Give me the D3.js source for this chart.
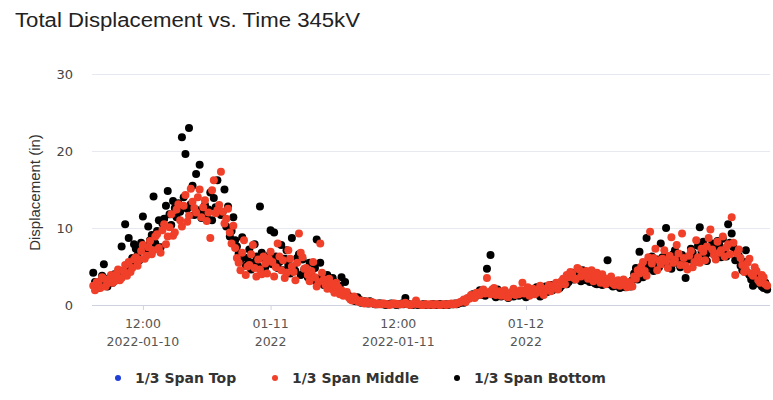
<!DOCTYPE html>
<html>
<head>
<meta charset="utf-8">
<script src="https://cdn.jsdelivr.net/npm/d3@7"></script>
<style>
  body { margin: 0; background: #fff; }
</style>
</head>
<body>
<div id="chart"></div>
<script>
// series values, one reading every 10 minutes from 2022-01-10 07:20
var topValues = [];

var middleValues = [
  2.5, 1.9, 3.0, 2.7, 2.2, 3.6, 3.4, 2.4, 2.8, 3.3, 3.9, 2.9, 3.1, 4.0, 4.6, 3.2, 3.5, 4.4, 5.2, 3.8,
  5.6, 4.3, 4.8, 5.9, 6.2, 5.1, 5.9, 7.0, 7.8, 6.0, 6.4, 7.5, 8.3, 6.6, 7.1, 8.9, 9.2, 7.4, 6.8, 9.7,
  10.5, 7.9, 8.9, 10.1, 11.8, 9.0, 9.4, 12.4, 13.1, 11.0, 10.2, 12.9, 14.3, 10.8, 11.6, 15.1, 13.4, 12.6, 12.0, 14.0,
  15.0, 11.4, 12.7, 13.6, 10.9, 12.0, 8.7, 14.9, 16.2, 11.9, 12.3, 13.0, 17.3, 12.1, 10.6, 11.2, 12.5, 9.4, 8.0, 10.3,
  7.4, 6.1, 5.5, 4.5, 6.8, 8.4, 3.9, 5.0, 5.2, 6.6, 7.8, 4.8, 3.7, 5.9, 4.6, 4.0, 6.3, 5.4, 4.1, 6.0,
  6.9, 5.6, 3.7, 4.9, 8.0, 6.3, 4.5, 5.8, 3.5, 4.2, 7.1, 6.0, 5.0, 4.3, 3.2, 5.5, 9.3, 6.8, 6.2, 4.7,
  4.8, 3.9, 3.1, 4.4, 5.6, 3.6, 2.4, 3.0, 8.0, 4.2, 3.3, 2.6, 2.1, 3.4, 2.8, 2.0, 1.6, 2.9, 2.3, 1.4,
  1.9, 1.2, 1.3, 1.7, 1.0, 0.7, 0.6, 1.1, 0.8, 0.5, 0.4, 0.6, 0.3, 0.2, 0.5, 0.3, 0.2, 0.4, 0.3, 0.1,
  0.2, 0.1, 0.1, 0.2, 0.2, 0.1, 0.1, 0.0, 0.1, 0.2, 0.2, 0.1, 0.1, 0.1, 0.1, 0.2, 0.3, 0.1, 0.1, 0.0,
  0.1, 0.2, 0.6, 0.1, 0.1, 0.0, 0.0, 0.1, 0.1, 0.0, 0.1, 0.1, 0.0, 0.1, 0.1, 0.0, 0.0, 0.1, 0.1, 0.0,
  0.1, 0.1, 0.2, 0.1, 0.1, 0.2, 0.3, 0.4, 0.5, 0.7, 0.4, 0.9, 0.8, 1.3, 1.1, 0.9, 1.6, 1.4, 1.3, 1.8,
  2.0, 1.5, 3.5, 1.7, 1.4, 2.0, 2.2, 1.3, 1.5, 1.8, 1.2, 1.6, 1.9, 1.1, 1.0, 1.4, 1.7, 2.1, 1.3, 1.6,
  1.4, 1.9, 2.9, 1.5, 1.8, 2.3, 1.2, 1.6, 2.1, 1.4, 1.6, 2.0, 2.5, 1.7, 1.3, 1.9, 2.2, 2.6, 1.8, 2.3,
  2.4, 2.9, 2.0, 2.6, 3.1, 3.4, 2.7, 3.9, 3.6, 4.3, 4.1, 3.5, 3.3, 4.8, 4.6, 3.7, 3.9, 4.2, 4.4, 3.4,
  3.8, 4.5, 3.1, 3.6, 4.2, 3.3, 2.9, 4.0, 3.5, 2.7, 3.0, 3.4, 3.7, 2.8, 2.6, 3.1, 3.2, 2.5, 2.8, 3.3,
  2.6, 2.3, 3.0, 2.8, 2.4, 3.7, 3.4, 4.5, 4.1, 5.0, 5.6, 4.4, 3.8, 6.2, 9.5, 5.4, 6.1, 7.3, 4.5, 5.8,
  5.3, 6.0, 7.1, 5.7, 4.8, 6.4, 8.8, 5.5, 5.9, 7.8, 6.7, 5.2, 9.3, 6.1, 5.1, 4.6, 6.4, 7.0, 4.9, 5.6,
  8.4, 6.2, 5.5, 7.3, 6.9, 5.8, 7.6, 8.7, 9.8, 7.2, 6.5, 5.9, 8.2, 6.8, 7.1, 8.9, 6.3, 7.5, 7.9, 6.6,
  11.4, 8.1, 3.9, 6.7, 7.2, 6.1, 5.2, 4.3, 4.6, 5.5, 6.0, 4.1, 3.8, 4.9, 4.4, 3.2, 2.9, 3.9, 3.6, 2.7, 2.5
];

var bottomValues = [
  4.2, 3.0, 2.6, 2.2, 3.1, 3.8, 5.3, 2.8, 2.4, 3.5, 3.2, 2.9, 4.0, 3.3, 3.6, 4.4, 7.6, 3.9, 10.5, 4.7,
  8.7, 5.4, 6.1, 7.9, 7.3, 6.5, 5.8, 8.1, 11.5, 7.7, 6.9, 10.2, 8.4, 9.1, 14.1, 8.0, 9.6, 11.0, 7.5, 10.6,
  11.2, 12.9, 14.8, 11.8, 10.4, 13.5, 12.6, 11.4, 13.2, 12.1, 21.8, 14.0, 19.6, 12.5, 23.0, 13.1, 15.5, 11.7, 17.0, 12.3,
  18.2, 11.3, 12.2, 13.0, 11.5, 12.4, 14.6, 11.0, 13.9, 12.7, 16.2, 11.9, 11.7, 12.1, 15.0, 10.2, 12.8, 8.9, 9.6, 11.4,
  8.4, 7.6, 6.7, 5.9, 8.8, 6.2, 5.1, 6.0, 7.2, 4.6, 5.5, 7.9, 6.3, 5.0, 12.8, 6.8, 6.1, 4.9, 5.4, 6.4,
  9.7, 5.3, 9.4, 6.3, 4.8, 5.6, 7.8, 4.5, 6.0, 7.1, 5.2, 4.1, 8.7, 5.0, 4.4, 6.1, 6.6, 3.9, 5.9, 4.6,
  4.1, 3.6, 5.5, 4.3, 3.2, 4.8, 8.5, 3.4, 5.5, 2.9, 2.6, 3.7, 3.9, 2.7, 2.2, 3.5, 3.0, 2.4, 1.8, 2.5,
  3.6, 1.6, 3.0, 1.4, 1.2, 0.8, 0.9, 0.6, 0.5, 1.0, 0.7, 0.3, 0.4, 0.5, 0.3, 0.2, 0.5, 0.3, 0.2, 0.1,
  0.1, 0.2, 0.2, 0.1, 0.1, 0.0, 0.1, 0.1, 0.2, 0.1, 0.1, 0.0, 0.1, 0.1, 0.2, 0.1, 0.9, 0.2, 0.1, 0.0,
  0.0, 0.1, 0.1, 0.0, 0.0, 0.0, 0.1, 0.1, 0.0, 0.0, 0.0, 0.1, 0.1, 0.0, 0.0, 0.1, 0.1, 0.0, 0.0, 0.1,
  0.0, 0.1, 0.1, 0.1, 0.2, 0.1, 0.2, 0.3, 0.4, 0.3, 0.6, 0.8, 0.9, 1.1, 1.4, 1.0, 1.2, 1.6, 1.9, 1.3,
  1.6, 1.2, 4.7, 1.5, 6.5, 1.8, 1.3, 1.0, 2.0, 1.4, 1.1, 1.7, 1.6, 1.2, 0.9, 1.5, 1.4, 1.1, 1.8, 1.3,
  1.2, 1.5, 1.8, 1.3, 1.0, 1.6, 1.9, 1.4, 1.5, 2.0, 2.3, 1.6, 1.1, 1.8, 2.0, 2.4, 1.7, 2.1, 2.6, 1.9,
  2.1, 2.4, 2.8, 2.2, 2.5, 3.0, 3.4, 2.7, 3.0, 3.6, 4.2, 3.3, 3.8, 4.4, 3.5, 3.1, 4.5, 3.7, 3.2, 3.9,
  3.0, 3.4, 3.6, 2.8, 2.7, 3.1, 3.3, 2.6, 2.9, 3.2, 5.8, 2.7, 3.1, 2.4, 2.5, 3.0, 2.8, 2.2, 2.4, 2.7,
  2.3, 2.6, 2.9, 2.4, 3.2, 4.1, 4.8, 3.3, 6.9, 4.5, 3.6, 5.3, 8.7, 4.7, 5.2, 6.3, 4.4, 5.5, 5.9, 4.9,
  8.0, 6.2, 5.4, 10.0, 6.3, 5.1, 4.7, 6.6, 7.1, 5.5, 5.8, 4.9, 6.5, 5.7, 3.5, 6.1, 5.9, 7.3, 6.8, 5.6,
  6.1, 7.7, 10.1, 6.9, 8.2, 6.4, 5.7, 7.2, 6.8, 8.0, 7.4, 6.5, 8.3, 7.8, 6.2, 8.6, 7.0, 6.3, 10.5, 8.1,
  9.3, 7.5, 5.8, 6.9, 6.4, 5.1, 4.5, 5.6, 7.1, 4.2, 3.9, 3.3, 2.5, 3.6, 4.1, 2.8, 3.3, 2.4, 2.2, 2.9, 2.0
];

var seriesNames = ["1/3 Span Top", "1/3 Span Middle", "1/3 Span Bottom"];
var seriesColors = ["#1f3fd6", "#f0402a", "#000000"];

var yTicks = [0, 10, 20, 30];
var xTicks = [
  new Date(2022, 0, 10, 12, 0),
  new Date(2022, 0, 11, 0, 0),
  new Date(2022, 0, 11, 12, 0),
  new Date(2022, 0, 12, 0, 0)
];
var xTickLine1 = ["12:00", "01-11", "12:00", "01-12"];
var xTickLine2 = ["2022-01-10", "2022", "2022-01-11", "2022"];

var startTime = new Date(2022, 0, 10, 7, 20);
var stepMinutes = 10;

(function() {
  var width = 773, height = 400;
  var plotLeft = 92, plotRight = 770, plotTop = 74, plotBottom = 305;

  var svg = d3.select("#chart").append("svg")
    .attr("width", width)
    .attr("height", height)
    .style("font-family", "'DejaVu Sans', sans-serif");

  var x = d3.scaleTime()
    .domain([new Date(2022, 0, 10, 7, 13), new Date(2022, 0, 12, 22, 56)])
    .range([plotLeft, plotRight]);

  var y = d3.scaleLinear()
    .domain([0, 30])
    .range([plotBottom, plotTop]);

  function toPoints(values) {
    return values.map(function(v, i) {
      return { t: d3.timeMinute.offset(startTime, i * stepMinutes), v: v };
    });
  }

  //title
  svg.append("text")
    .attr("x", 15)
    .attr("y", 27)
    .attr("fill", "#222")
    .attr("textLength", 345)
    .attr("lengthAdjust", "spacingAndGlyphs")
    .style("font-family", "'Liberation Sans', Arial, sans-serif")
    .style("font-size", "20px")
    .text("Total Displacement vs. Time 345kV");

  //grid lines
  svg.append("g").selectAll("line")
    .data(yTicks.filter(function(d) { return d > 0; }))
    .enter().append("line")
    .attr("x1", plotLeft)
    .attr("x2", plotRight)
    .attr("y1", function(d) { return y(d) + 0.5; })
    .attr("y2", function(d) { return y(d) + 0.5; })
    .attr("stroke", "#e6e9f0")
    .attr("stroke-width", 1);

  //y axis labels
  var yAxis = svg.append("g")
    .attr("transform", "translate(" + (plotLeft - 19) + ",0)")
    .call(d3.axisLeft(y).tickValues(yTicks).tickSize(0).tickPadding(0));
  yAxis.select(".domain").remove();
  yAxis.selectAll("text")
    .attr("fill", "#444")
    .style("font-size", "13px")
    .style("font-family", "'DejaVu Sans', sans-serif");

  svg.append("text")
    .attr("transform", "translate(40," + ((plotTop + plotBottom) / 2 + 3) + ") rotate(-90)")
    .attr("text-anchor", "middle")
    .attr("fill", "#333")
    .style("font-family", "'Liberation Sans', Arial, sans-serif")
    .style("font-size", "15px")
    .text("Displacement (in)");

  //x axis
  var xAxis = svg.append("g")
    .attr("transform", "translate(0," + plotBottom + ")")
    .call(d3.axisBottom(x).tickValues(xTicks).tickSize(5).tickFormat(""));
  xAxis.select(".domain")
    .attr("stroke", "#cfd3e0")
    .attr("d", "M" + plotLeft + ",0.5H" + plotRight);
  xAxis.selectAll(".tick line").attr("stroke", "#cfd3e0");

  var xLabels = svg.append("g").selectAll("g")
    .data(xTicks)
    .enter().append("g")
    .attr("transform", function(d) { return "translate(" + x(d) + "," + plotBottom + ")"; });
  xLabels.append("text")
    .attr("y", 23)
    .attr("text-anchor", "middle")
    .attr("fill", "#555")
    .style("font-size", "12.5px")
    .text(function(d, i) { return xTickLine1[i]; });
  xLabels.append("text")
    .attr("y", 41)
    .attr("text-anchor", "middle")
    .attr("fill", "#555")
    .style("font-size", "12.5px")
    .text(function(d, i) { return xTickLine2[i]; });

  //points
  var plot = svg.append("g");
  [[topValues, 0], [bottomValues, 2], [middleValues, 1]].forEach(function(s) {
    plot.append("g").selectAll("circle")
      .data(toPoints(s[0]))
      .enter().append("circle")
      .attr("cx", function(d) { return x(d.t); })
      .attr("cy", function(d) { return y(d.v); })
      .attr("r", 4)
      .attr("fill", seriesColors[s[1]]);
  });

  //legend
  var legendX = [118, 275, 457];
  var legend = svg.append("g").selectAll("g")
    .data(seriesNames)
    .enter().append("g")
    .attr("transform", function(d, i) { return "translate(" + legendX[i] + ",378)"; });
  legend.append("circle")
    .attr("r", 3)
    .attr("fill", function(d, i) { return seriesColors[i]; });
  legend.append("text")
    .attr("x", 17)
    .attr("y", 5)
    .attr("fill", "#333")
    .style("font-size", "14px")
    .style("font-weight", "bold")
    .text(function(d) { return d; });
})();
</script>
</body>
</html>
